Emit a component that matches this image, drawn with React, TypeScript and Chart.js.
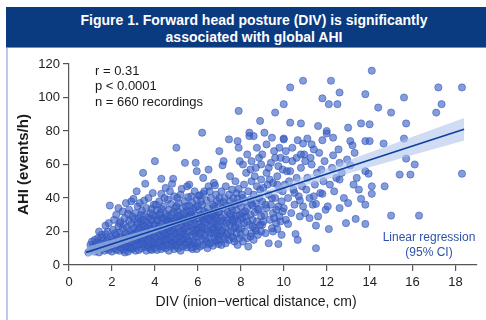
import React, { useEffect, useRef } from 'react';
import { Chart, registerables } from 'chart.js';

Chart.register(...registerables);

const FONT = '"Liberation Sans", Arial, Helvetica, sans-serif';

const titleLines = ['Figure 1. Forward head posture (DIV) is significantly', 'associated with global AHI'];
const xAxisTitle = 'DIV (inion\u2212vertical distance, cm)';
const yAxisTitle = 'AHI (events/h)';
const statLines = ['r = 0.31', 'p < 0.0001', 'n = 660 recordings'];
const regressionLabel = ['Linear regression', '(95% CI)'];

// [DIV (cm), AHI (events/h)] per recording
const recordings: [number, number][] = [
  [0.9,7.5],[1.0,9],[1.07,14],[1.1,11],[1.2,8],[1.25,12.5],[1.3,10],[1.35,16],[1.4,7.5],[1.45,13],[1.5,9.5],[1.5,18],[1.55,11.5],[1.6,14.5],[1.65,8.5],[1.7,23.5],[1.7,18.5],[1.7,12],[1.75,10],[1.8,15.5],[1.8,20],[1.85,9],[1.9,35.5],[1.9,13],[1.95,17],[1.95,11],[1.2,15],[1.4,20],[1.6,10],[1.0,12],[1.3,13.5],[1.85,25],[1.55,16.5],[1.15,9.5],[1.75,14],
  [2.0,8],[2.0,12],[2.05,16],[2.05,21],[2.1,10],[2.1,27],[2.15,14],[2.2,30],[2.2,9],[2.2,18],[2.25,11.5],[2.3,23],[2.3,15],[2.35,8.5],[2.35,19.5],[2.4,12.5],[2.4,26],[2.45,10],[2.45,17],[2.5,14],[2.5,21.5],[2.5,32],[2.55,9],[2.55,24],[2.6,12],[2.6,16.5],[2.6,28],[2.65,37],[2.65,19],[2.7,10.5],[2.7,14.5],[2.7,22.5],[2.75,8],[2.75,18],[2.8,26.5],[2.8,12],[2.8,33],[2.85,16],[2.85,20.5],[2.9,38],[2.9,9.5],[2.9,24.5],[2.95,13.5],[2.95,29],[2.3,34],[2.15,19],[2.45,13],[2.65,11],[2.55,15.5],[2.85,10.5],[2.35,25],[2.75,30.5],[2.05,13.5],[2.95,18.5],[2.6,7.5],
  [3.0,39.5],[3.0,10],[3.0,16],[3.0,22],[3.05,13],[3.05,27.5],[3.1,8.5],[3.1,19],[3.1,31],[3.15,11.5],[3.15,24],[3.2,15],[3.2,35],[3.2,20.5],[3.25,9],[3.25,17.5],[3.25,28],[3.3,37],[3.3,12.5],[3.3,22.5],[3.35,14.5],[3.35,26],[3.4,10],[3.4,19.5],[3.4,32.5],[3.45,55],[3.45,16],[3.45,24.5],[3.5,11],[3.5,21],[3.5,29.5],[3.55,48.5],[3.55,13.5],[3.55,18],[3.6,8.5],[3.6,25.5],[3.6,34],[3.65,15.5],[3.65,22],[3.7,10.5],[3.7,19],[3.7,28.5],[3.7,40],[3.75,13],[3.75,24],[3.8,16.5],[3.8,31],[3.8,9.5],[3.85,21.5],[3.85,26.5],[3.9,43],[3.9,12],[3.9,18.5],[3.95,14],[3.95,23.5],[3.95,36],[3.15,44],[3.35,30],[3.5,38.5],[3.65,12],[3.75,17],[3.85,9],[3.25,21],[3.45,27],[3.6,20],[3.8,27.5],[3.1,15],[3.4,12.5],[3.55,23],[3.9,30],[3.05,18],[3.7,14.5],[3.3,17],[3.85,33.5],[3.2,25.5],
  [4.0,62],[4.0,10],[4.0,17],[4.0,24],[4.05,13],[4.05,29],[4.05,20],[4.1,9],[4.1,33],[4.1,15.5],[4.15,22],[4.15,26.5],[4.2,11.5],[4.2,18],[4.2,38],[4.25,14],[4.25,31],[4.25,21],[4.3,51.5],[4.3,42.5],[4.3,9.5],[4.3,25],[4.35,16.5],[4.35,28],[4.4,12],[4.4,19.5],[4.4,35],[4.45,23],[4.45,14.5],[4.5,10],[4.5,27],[4.5,30.5],[4.5,46],[4.55,17.5],[4.55,21.5],[4.6,13],[4.6,25.5],[4.6,39],[4.65,8.5],[4.65,19],[4.65,33],[4.7,15],[4.7,23.5],[4.7,28.5],[4.75,11],[4.75,20.5],[4.75,36.5],[4.8,48.5],[4.8,17],[4.8,26],[4.85,51.5],[4.85,13.5],[4.85,31.5],[4.9,22],[4.9,9.5],[4.9,41],[4.95,18.5],[4.95,27.5],[4.95,15],[4.1,27],[4.2,30],[4.35,11],[4.45,40],[4.55,12],[4.65,26],[4.75,30],[4.85,20],[4.95,34],[4.05,36],[4.25,17],[4.4,27.5],[4.6,16],[4.7,44],[4.9,24.5],[4.15,13.5],[4.35,21],[4.55,29],[4.8,12.5],[4.45,18],[4.65,22.5],[4.3,33.5],[4.5,15],[4.75,24.5],[4.95,11.5],[4.2,23],
  [5.0,70],[5.0,12],[5.0,19],[5.0,25],[5.05,15.5],[5.05,32],[5.05,28],[5.1,10],[5.1,22],[5.1,37],[5.15,17],[5.15,26.5],[5.2,8.5],[5.2,13.5],[5.2,30],[5.2,42],[5.25,45.5],[5.25,20],[5.25,24],[5.3,11],[5.3,34],[5.3,27.5],[5.35,16],[5.35,21.5],[5.4,61],[5.4,13],[5.4,29],[5.4,38],[5.45,18.5],[5.45,25],[5.5,10.5],[5.5,23],[5.5,32.5],[5.5,47],[5.55,15],[5.55,28],[5.6,48],[5.6,20],[5.6,35.5],[5.65,12.5],[5.65,26],[5.7,41],[5.7,17.5],[5.7,30.5],[5.75,22],[5.75,9.5],[5.75,37],[5.8,14],[5.8,27],[5.8,33],[5.85,19],[5.85,24.5],[5.85,44],[5.9,61],[5.9,11.5],[5.9,29.5],[5.95,56],[5.95,9.5],[5.95,21],[5.95,39],[5.05,40],[5.15,14],[5.3,18],[5.45,35],[5.6,14],[5.75,28.5],[5.9,17],[5.1,29.5],[5.35,31],[5.55,40.5],[5.7,24],[5.85,13],[5.0,35],[5.25,15],[5.4,22],[5.65,32],[5.8,20.5],[5.2,26],[5.5,17],[5.6,29],[5.9,34.5],[5.15,20],[5.45,12],[5.7,10.5],[5.35,27],
  [6.0,13],[6.0,21],[6.0,28],[6.05,17],[6.05,33],[6.05,41.5],[6.1,41.5],[6.1,11],[6.1,25],[6.15,19.5],[6.15,30],[6.2,79],[6.2,15],[6.2,36],[6.2,23],[6.25,52],[6.25,27],[6.25,12],[6.3,32],[6.3,18],[6.3,44],[6.35,21.5],[6.35,29],[6.4,14],[6.4,38.5],[6.4,25.5],[6.45,10],[6.45,34],[6.5,57],[6.5,20],[6.5,30.5],[6.5,47],[6.55,16],[6.55,27],[6.6,13],[6.6,23.5],[6.6,40],[6.65,31],[6.65,19],[6.7,36],[6.7,11.5],[6.7,26],[6.75,49],[6.75,22],[6.75,16.5],[6.8,47.5],[6.8,29],[6.8,33.5],[6.85,14],[6.85,24.5],[6.85,42],[6.9,20],[6.9,38],[6.9,27.5],[6.95,17.5],[6.95,31.5],[6.95,12.5],[6.05,24],[6.15,38],[6.3,26],[6.45,21],[6.6,29.5],[6.75,35],[6.9,15],[6.0,35],[6.2,29],[6.35,16],[6.55,44],[6.7,21],[6.85,30],[6.1,18.5],[6.4,31],[6.65,25],[6.95,23],[6.25,42.5],[6.5,12.5],[6.8,19],[6.15,22.5],[6.45,27.5],[6.7,30.5],
  [7.0,68],[7.0,15],[7.0,24],[7.0,32],[7.05,19],[7.05,37],[7.1,12],[7.1,28],[7.1,44],[7.15,59.5],[7.15,21],[7.15,34],[7.2,62],[7.2,17],[7.2,26.5],[7.25,40],[7.25,30],[7.3,13],[7.3,22.5],[7.3,47],[7.35,18],[7.35,35.5],[7.4,27],[7.4,31.5],[7.45,75],[7.45,15],[7.45,42],[7.5,24],[7.5,38],[7.5,53],[7.55,20],[7.55,29],[7.6,17],[7.6,33],[7.6,45],[7.65,25.5],[7.65,40],[7.7,14],[7.7,22],[7.7,36],[7.75,50],[7.75,29.5],[7.8,19],[7.8,43],[7.8,32.5],[7.85,74],[7.85,26],[7.85,12],[7.9,92],[7.9,70],[7.9,21.5],[7.9,37],[7.95,62],[7.95,16],[7.95,30],[7.05,26],[7.2,37.5],[7.35,25],[7.55,35],[7.7,27.5],[7.9,45.5],[7.1,20],[7.4,19.5],[7.6,27],[7.85,39.5],[7.25,15.5],[7.5,30.5],[7.75,23],[7.0,40],[7.65,16],
  [8.0,18],[8.0,27],[8.0,35],[8.05,42],[8.05,22],[8.1,14],[8.1,31],[8.15,48],[8.15,25],[8.2,38],[8.2,20],[8.25,55],[8.25,29],[8.3,16],[8.3,34],[8.35,11],[8.35,44],[8.4,79],[8.4,77],[8.4,24],[8.45,39],[8.45,30],[8.5,19],[8.5,50],[8.55,35.5],[8.55,27],[8.6,77],[8.6,15],[8.6,42],[8.65,22],[8.65,31.5],[8.7,58],[8.7,37],[8.75,26],[8.75,47],[8.8,18],[8.8,33],[8.85,64],[8.85,40],[8.9,86],[8.9,24],[8.95,20],[8.95,29],[8.95,51],[8.1,40],[8.3,26],[8.5,36.5],[8.7,20.5],[8.9,45],[8.2,32],[8.45,17],[8.65,53],[8.85,33.5],[8.05,28.5],[8.55,23],
  [8.1,60],[8.3,66],[8.5,62],[8.75,70],[8.45,57],[8.95,60],
  [9.0,24],[9.0,38],[9.05,46],[9.1,79],[9.1,30],[9.15,19],[9.2,55],[9.2,34],[9.3,13],[9.3,42],[9.35,27],[9.4,61],[9.4,36],[9.45,22],[9.5,49],[9.5,31],[9.55,68],[9.6,91],[9.6,40],[9.65,25],[9.7,21.5],[9.7,53],[9.75,12.5],[9.75,35],[9.8,45],[9.8,29],[9.85,64],[9.9,38],[9.9,18],[9.95,57],[9.95,32],[9.05,26],[9.25,48],[9.45,40],[9.65,33],[9.85,26],[9.15,36],[9.35,51],[9.55,28],[9.75,59],[9.95,44],[9.5,20],
  [9.0,66],[9.2,72],[9.3,58],[9.45,76],[9.6,64],[9.8,70],[9.7,48],
  [10.0,96],[10.0,75.5],[10.0,75],[10.0,34],[10.05,48],[10.1,27],[10.15,56],[10.2,24.5],[10.2,40],[10.3,106],[10.3,85],[10.35,31],[10.4,62],[10.45,45],[10.5,36],[10.55,18.5],[10.6,52],[10.65,74.5],[10.65,15],[10.7,41],[10.75,29],[10.8,84.5],[10.8,58],[10.85,47],[10.9,110],[10.9,72.5],[10.9,35],[10.95,66],[10.25,50],[10.5,43],[10.75,38.5],[10.1,63],
  [10.1,68],[10.4,70],[10.6,64],[10.3,56],[10.8,66],
  [11.0,31],[11.05,45],[11.1,75.5],[11.1,52],[11.2,28],[11.2,40],[11.3,72],[11.3,60],[11.35,36],[11.45,48],[11.5,36.5],[11.5,23.5],[11.5,10],[11.55,55],[11.6,29],[11.6,83],[11.65,67],[11.7,43],[11.8,99.5],[11.8,74.5],[11.8,42.5],[11.85,50],[11.9,62],[11.95,33],[11.25,64],[11.4,41],[11.75,57],[11.0,62],[11.4,69],
  [12.0,80],[12.0,78.5],[12.05,35],[12.1,96],[12.1,21.5],[12.15,48],[12.2,110],[12.25,58],[12.3,76],[12.3,65.5],[12.35,44],[12.5,96],[12.55,69],[12.6,103],[12.6,61],[12.6,51],[12.6,34],[12.7,55],[12.8,40],[12.9,25],[12.95,63],[12.45,52],
  [13.0,82],[13.0,37],[13.1,74],[13.1,59.5],[13.2,71.5],[13.3,67],[13.35,27.5],[13.4,52],[13.6,84.5],[13.6,39.5],[13.8,102],[13.8,74],[13.8,56],[13.8,36],[13.8,24.5],[13.95,54.5],[14.0,84],[14.0,74],[13.5,45],[13.25,48],
  [14.1,116],[14.1,47],[14.1,42.5],[14.4,94],[14.65,72.5],[14.7,47],[15.0,91],[15.0,29.5],[15.4,54],[15.6,100],[15.6,75.5],[15.7,84.5],[15.7,63.5],[15.9,54],
  [16.1,60],[16.3,29.5],[17.1,91],[17.2,106],[17.35,96],[18.3,106],[18.3,54.5],
];

// Fitted regression line and 95% CI
const fitDiv = [0.8, 1.5, 2, 3, 4, 5, 6, 7, 8, 9, 10, 11, 12, 13, 14, 15, 16, 17, 18.4];
const fitAhi = [7.54, 10.47, 12.56, 16.74, 20.92, 25.1, 29.28, 33.46, 37.64, 41.82, 46.0, 50.18, 54.36, 58.54, 62.72, 66.9, 71.08, 75.26, 81.11];
const ciLower = [4.3, 7.6, 10.0, 14.7, 19.3, 23.9, 28.3, 32.4, 36.3, 40.0, 43.7, 47.4, 51.1, 54.7, 58.4, 62.0, 65.7, 69.3, 74.4];
const ciUpper = [10.7, 13.3, 15.1, 18.8, 22.5, 26.3, 30.3, 34.5, 39.0, 43.6, 48.3, 53.0, 57.6, 62.4, 67.1, 71.8, 76.5, 81.2, 87.8];

const xMin = 0, xMax = 19, xStep = 2;
const yMin = 0, yMax = 120, yStep = 20;

const textPlugin = {
  id: 'extraTexts',
  afterDraw(chart: any) {
    const ctx = chart.ctx as CanvasRenderingContext2D;
    const area = chart.chartArea;
    ctx.save();
    // y axis title
    ctx.fillStyle = '#1a1a1a';
    ctx.font = `bold 15px ${FONT}`;
    ctx.textAlign = 'center';
    ctx.textBaseline = 'middle';
    ctx.save();
    ctx.translate(24, (area.top + area.bottom) / 2);
    ctx.rotate(-Math.PI / 2);
    ctx.fillText(yAxisTitle, 0, 0);
    ctx.restore();
    // x axis title
    ctx.font = `14px ${FONT}`;
    ctx.fillText(xAxisTitle, 256, 302);
    // stats
    ctx.textAlign = 'left';
    ctx.font = `13px ${FONT}`;
    statLines.forEach((t, i) => ctx.fillText(t, 95, 71 + i * 15.5));
    // regression label
    ctx.textAlign = 'center';
    ctx.fillStyle = '#2f52a8';
    ctx.font = `12px ${FONT}`;
    regressionLabel.forEach((t, i) => ctx.fillText(t, 429, 238 + i * 15));
    ctx.restore();
  },
};

export default function App() {
  const canvasRef = useRef<HTMLCanvasElement | null>(null);

  useEffect(() => {
    if (!canvasRef.current) return;
    const axisColor = '#555';
    const chart = new Chart(canvasRef.current, {
      type: 'scatter',
      data: {
        datasets: [
          {
            type: 'line',
            label: 'fit',
            data: fitDiv.map((x, i) => ({ x, y: fitAhi[i] })),
            borderColor: '#0d3f9e',
            borderWidth: 1.6,
            pointRadius: 0,
            fill: false,
            order: 0,
          } as any,
          {
            type: 'line',
            label: 'ciLower',
            data: fitDiv.map((x, i) => ({ x, y: ciLower[i] })),
            borderColor: 'rgba(0,0,0,0)',
            borderWidth: 0,
            pointRadius: 0,
            fill: false,
            order: 1,
          } as any,
          {
            type: 'line',
            label: 'ciUpper',
            data: fitDiv.map((x, i) => ({ x, y: ciUpper[i] })),
            borderColor: 'rgba(0,0,0,0)',
            borderWidth: 0,
            pointRadius: 0,
            fill: '-1',
            backgroundColor: 'rgba(175,197,235,0.6)',
            order: 1,
          } as any,
          {
            label: 'recordings',
            data: recordings.map(([x, y]) => ({ x, y })),
            pointRadius: 3.6,
            pointBackgroundColor: 'rgba(58,95,195,0.62)',
            pointBorderColor: 'rgba(50,85,185,0.7)',
            pointBorderWidth: 0.8,
            clip: false,
            order: 2,
          } as any,
        ],
      },
      options: {
        animation: false,
        responsive: false,
        events: [],
        layout: { padding: { top: 64, right: 9, bottom: 0, left: 0 } },
        plugins: { legend: { display: false }, tooltip: { enabled: false }, title: { display: false } },
        scales: {
          x: {
            type: 'linear',
            min: xMin,
            max: xMax,
            afterFit: (s: any) => { s.height = 55; },
            ticks: { stepSize: xStep, includeBounds: false, color: '#222', padding: 4, font: { size: 13, family: FONT } },
            grid: { drawOnChartArea: false, drawTicks: true, tickLength: 6, color: axisColor, lineWidth: 1.2 },
            border: { display: true, color: axisColor, width: 1.2 },
          },
          y: {
            type: 'linear',
            min: yMin,
            max: yMax,
            afterFit: (s: any) => { s.width = 69; },
            ticks: { stepSize: yStep, includeBounds: false, color: '#222', padding: 3, font: { size: 13, family: FONT } },
            grid: { drawOnChartArea: false, drawTicks: true, tickLength: 6, color: axisColor, lineWidth: 1.2 },
            border: { display: true, color: axisColor, width: 1.2 },
          },
        },
      },
      plugins: [textPlugin],
    });
    return () => chart.destroy();
  }, []);

  return (
    <div style={{ position: 'fixed', left: 0, top: 0, width: 486, height: 320, background: '#fff', overflow: 'hidden' }}>
      <div style={{ position: 'absolute', left: 6, top: 48, width: 2, height: 272, background: '#b9cbe9' }} />
      <canvas ref={canvasRef} width={486} height={320} style={{ position: 'absolute', left: 0, top: 0, display: 'block' }} />
      <div
        style={{
          position: 'absolute',
          left: 6,
          top: 7,
          width: 480,
          height: 41,
          background: '#0a3a80',
          color: '#fff',
          fontFamily: FONT,
          fontWeight: 'bold',
          fontSize: 14,
          lineHeight: '17px',
          textAlign: 'center',
          boxSizing: 'border-box',
          paddingLeft: 16,
          paddingTop: 5,
          borderBottom: '1px solid #6f8fc4',
        }}
      >
        {titleLines.map((t, i) => (
          <div key={i}>{t}</div>
        ))}
      </div>
    </div>
  );
}
